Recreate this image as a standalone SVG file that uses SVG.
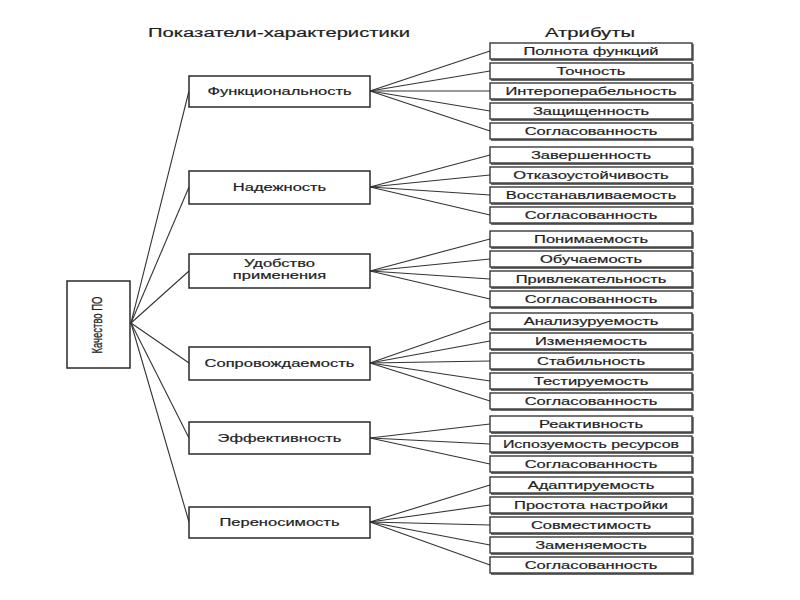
<svg xmlns="http://www.w3.org/2000/svg" width="800" height="600" viewBox="0 0 800 600">
<style>
  text { font-family: "Liberation Sans", Arial, sans-serif; fill: #1e1e1e; stroke: #1e1e1e; stroke-width: 0.2; text-anchor: middle; }
  .hdr { font-size: 13.5px; }
  .mt { font-size: 11px; }
  .rt { font-size: 11px; }
  .lt { font-size: 9.5px; }
  .box { fill: #fff; stroke: #2a2a2a; stroke-width: 1.3; }
  .mbox { fill: #fff; stroke: #2a2a2a; stroke-width: 1.5; }
  .sh { fill: none; stroke: #3a3a3a; stroke-width: 1.3; }
  .conn line { stroke: #333; stroke-width: 1.1; }
</style>
<rect width="800" height="600" fill="#fff"/>

<g id="headers">
  <text class="hdr" transform="translate(279 37) scale(1.5 1)">Показатели-характеристики</text>
  <text class="hdr" transform="translate(590 37) scale(1.5 1)">Атрибуты</text>
</g>

<g class="conn" id="connectors">
  <line x1="131" y1="323" x2="189" y2="91"/>
  <line x1="131" y1="323" x2="189" y2="187"/>
  <line x1="131" y1="323" x2="189" y2="271"/>
  <line x1="131" y1="323" x2="189" y2="363"/>
  <line x1="131" y1="323" x2="189" y2="438"/>
  <line x1="131" y1="323" x2="189" y2="522"/>

  <line x1="370" y1="91" x2="490" y2="51"/>
  <line x1="370" y1="91" x2="490" y2="71"/>
  <line x1="370" y1="91" x2="490" y2="91"/>
  <line x1="370" y1="91" x2="490" y2="111"/>
  <line x1="370" y1="91" x2="490" y2="131"/>

  <line x1="370" y1="187" x2="490" y2="155"/>
  <line x1="370" y1="187" x2="490" y2="175"/>
  <line x1="370" y1="187" x2="490" y2="195"/>
  <line x1="370" y1="187" x2="490" y2="215"/>

  <line x1="370" y1="271" x2="490" y2="239"/>
  <line x1="370" y1="271" x2="490" y2="259"/>
  <line x1="370" y1="271" x2="490" y2="279"/>
  <line x1="370" y1="271" x2="490" y2="299"/>

  <line x1="370" y1="363" x2="490" y2="321"/>
  <line x1="370" y1="363" x2="490" y2="341"/>
  <line x1="370" y1="363" x2="490" y2="361"/>
  <line x1="370" y1="363" x2="490" y2="381"/>
  <line x1="370" y1="363" x2="490" y2="401"/>

  <line x1="370" y1="438" x2="490" y2="424"/>
  <line x1="370" y1="438" x2="490" y2="444"/>
  <line x1="370" y1="438" x2="490" y2="464"/>

  <line x1="370" y1="522" x2="490" y2="485"/>
  <line x1="370" y1="522" x2="490" y2="505"/>
  <line x1="370" y1="522" x2="490" y2="525"/>
  <line x1="370" y1="522" x2="490" y2="545"/>
  <line x1="370" y1="522" x2="490" y2="565"/>
</g>

<g id="root">
  <rect class="mbox" x="67" y="281" width="63" height="87"/>
  <text class="lt" transform="translate(101.5 325) scale(1.5 1) rotate(-90)">Качество ПО</text>
</g>

<g id="m1"><rect class="mbox" x="189" y="76" width="181" height="31"/><text class="mt" transform="translate(279.5 95) scale(1.5 1)">Функциональность</text></g>
<g id="m2"><rect class="mbox" x="189" y="171" width="181" height="33"/><text class="mt" transform="translate(279.5 191) scale(1.5 1)">Надежность</text></g>
<g id="m3"><rect class="mbox" x="189" y="254" width="181" height="34"/><text class="mt" transform="translate(279.5 267) scale(1.5 1)">Удобство</text><text class="mt" transform="translate(279.5 279) scale(1.5 1)">применения</text></g>
<g id="m4"><rect class="mbox" x="189" y="347" width="181" height="33"/><text class="mt" transform="translate(279.5 367) scale(1.5 1)">Сопровождаемость</text></g>
<g id="m5"><rect class="mbox" x="189" y="422" width="181" height="32"/><text class="mt" transform="translate(279.5 442) scale(1.5 1)">Эффективность</text></g>
<g id="m6"><rect class="mbox" x="189" y="507" width="181" height="31"/><text class="mt" transform="translate(279.5 526) scale(1.5 1)">Переносимость</text></g>

<g id="a1"><rect class="box" x="490" y="43" width="202" height="16"/><path class="sh" d="M693 44V60H491"/><text class="rt" transform="translate(591 55) scale(1.5 1)">Полнота функций</text></g>
<g id="a2"><rect class="box" x="490" y="63" width="202" height="16"/><path class="sh" d="M693 64V80H491"/><text class="rt" transform="translate(591 75) scale(1.5 1)">Точность</text></g>
<g id="a3"><rect class="box" x="490" y="83" width="202" height="16"/><path class="sh" d="M693 84V100H491"/><text class="rt" transform="translate(591 95) scale(1.5 1)">Интероперабельность</text></g>
<g id="a4"><rect class="box" x="490" y="103" width="202" height="16"/><path class="sh" d="M693 104V120H491"/><text class="rt" transform="translate(591 115) scale(1.5 1)">Защищенность</text></g>
<g id="a5"><rect class="box" x="490" y="123" width="202" height="16"/><path class="sh" d="M693 124V140H491"/><text class="rt" transform="translate(591 135) scale(1.5 1)">Согласованность</text></g>

<g id="a6"><rect class="box" x="490" y="147" width="202" height="16"/><path class="sh" d="M693 148V164H491"/><text class="rt" transform="translate(591 159) scale(1.5 1)">Завершенность</text></g>
<g id="a7"><rect class="box" x="490" y="167" width="202" height="16"/><path class="sh" d="M693 168V184H491"/><text class="rt" transform="translate(591 179) scale(1.5 1)">Отказоустойчивость</text></g>
<g id="a8"><rect class="box" x="490" y="187" width="202" height="16"/><path class="sh" d="M693 188V204H491"/><text class="rt" transform="translate(591 199) scale(1.5 1)">Восстанавливаемость</text></g>
<g id="a9"><rect class="box" x="490" y="207" width="202" height="16"/><path class="sh" d="M693 208V224H491"/><text class="rt" transform="translate(591 219) scale(1.5 1)">Согласованность</text></g>

<g id="a10"><rect class="box" x="490" y="231" width="202" height="16"/><path class="sh" d="M693 232V248H491"/><text class="rt" transform="translate(591 243) scale(1.5 1)">Понимаемость</text></g>
<g id="a11"><rect class="box" x="490" y="251" width="202" height="16"/><path class="sh" d="M693 252V268H491"/><text class="rt" transform="translate(591 263) scale(1.5 1)">Обучаемость</text></g>
<g id="a12"><rect class="box" x="490" y="271" width="202" height="16"/><path class="sh" d="M693 272V288H491"/><text class="rt" transform="translate(591 283) scale(1.5 1)">Привлекательность</text></g>
<g id="a13"><rect class="box" x="490" y="291" width="202" height="16"/><path class="sh" d="M693 292V308H491"/><text class="rt" transform="translate(591 303) scale(1.5 1)">Согласованность</text></g>

<g id="a14"><rect class="box" x="490" y="313" width="202" height="16"/><path class="sh" d="M693 314V330H491"/><text class="rt" transform="translate(591 325) scale(1.5 1)">Анализуруемость</text></g>
<g id="a15"><rect class="box" x="490" y="333" width="202" height="16"/><path class="sh" d="M693 334V350H491"/><text class="rt" transform="translate(591 345) scale(1.5 1)">Изменяемость</text></g>
<g id="a16"><rect class="box" x="490" y="353" width="202" height="16"/><path class="sh" d="M693 354V370H491"/><text class="rt" transform="translate(591 365) scale(1.5 1)">Стабильность</text></g>
<g id="a17"><rect class="box" x="490" y="373" width="202" height="16"/><path class="sh" d="M693 374V390H491"/><text class="rt" transform="translate(591 385) scale(1.5 1)">Тестируемость</text></g>
<g id="a18"><rect class="box" x="490" y="393" width="202" height="16"/><path class="sh" d="M693 394V410H491"/><text class="rt" transform="translate(591 405) scale(1.5 1)">Согласованность</text></g>

<g id="a19"><rect class="box" x="490" y="416" width="202" height="16"/><path class="sh" d="M693 417V433H491"/><text class="rt" transform="translate(591 428) scale(1.5 1)">Реактивность</text></g>
<g id="a20"><rect class="box" x="490" y="436" width="202" height="16"/><path class="sh" d="M693 437V453H491"/><text class="rt" transform="translate(591 448) scale(1.45 1)">Испозуемость ресурсов</text></g>
<g id="a21"><rect class="box" x="490" y="456" width="202" height="16"/><path class="sh" d="M693 457V473H491"/><text class="rt" transform="translate(591 468) scale(1.5 1)">Согласованность</text></g>

<g id="a22"><rect class="box" x="490" y="477" width="202" height="16"/><path class="sh" d="M693 478V494H491"/><text class="rt" transform="translate(591 489) scale(1.5 1)">Адаптируемость</text></g>
<g id="a23"><rect class="box" x="490" y="497" width="202" height="16"/><path class="sh" d="M693 498V514H491"/><text class="rt" transform="translate(591 509) scale(1.5 1)">Простота настройки</text></g>
<g id="a24"><rect class="box" x="490" y="517" width="202" height="16"/><path class="sh" d="M693 518V534H491"/><text class="rt" transform="translate(591 529) scale(1.5 1)">Совместимость</text></g>
<g id="a25"><rect class="box" x="490" y="537" width="202" height="16"/><path class="sh" d="M693 538V554H491"/><text class="rt" transform="translate(591 549) scale(1.5 1)">Заменяемость</text></g>
<g id="a26"><rect class="box" x="490" y="557" width="202" height="16"/><path class="sh" d="M693 558V574H491"/><text class="rt" transform="translate(591 569) scale(1.5 1)">Согласованность</text></g>
</svg>
